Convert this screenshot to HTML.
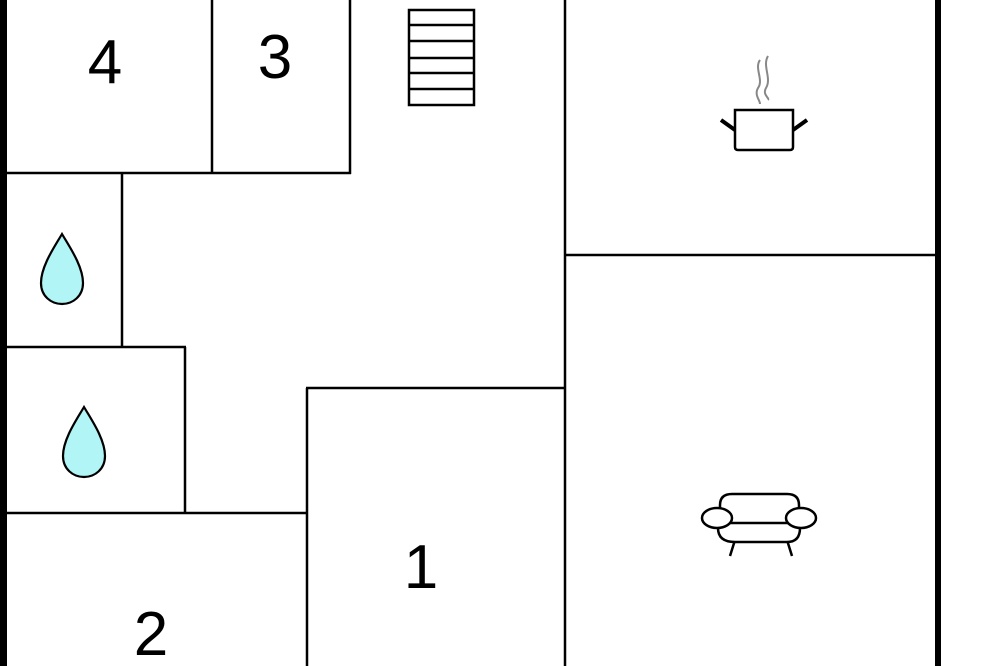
<!DOCTYPE html>
<html><head><meta charset="utf-8"><style>
html,body{margin:0;padding:0;background:#fff;}
svg{display:block;}
text{font-family:"Liberation Sans",sans-serif;fill:#000;}
</style></head><body>
<svg width="1000" height="666" viewBox="0 0 1000 666">
<rect width="1000" height="666" fill="#fff"/>
<g stroke="#000" stroke-width="2.5" fill="none">
<line x1="7" y1="173" x2="351" y2="173"/>
<line x1="212" y1="0" x2="212" y2="173"/>
<line x1="350" y1="0" x2="350" y2="174"/>
<line x1="122" y1="173" x2="122" y2="347"/>
<line x1="7" y1="347" x2="186" y2="347"/>
<line x1="185" y1="347" x2="185" y2="513"/>
<line x1="7" y1="513" x2="308" y2="513"/>
<line x1="307" y1="388" x2="307" y2="666"/>
<line x1="306" y1="388" x2="565" y2="388"/>
<line x1="565" y1="0" x2="565" y2="666"/>
<line x1="565" y1="255" x2="936" y2="255"/>
</g>
<rect x="0" y="0" width="7" height="666" fill="#000"/>
<rect x="935" y="0" width="6" height="666" fill="#000"/>
<!-- stairs -->
<g stroke="#000" stroke-width="2.5" fill="none">
<rect x="409" y="10" width="65" height="95"/>
<line x1="409" y1="25" x2="474" y2="25"/>
<line x1="409" y1="41" x2="474" y2="41"/>
<line x1="409" y1="58" x2="474" y2="58"/>
<line x1="409" y1="73" x2="474" y2="73"/>
<line x1="409" y1="89" x2="474" y2="89"/>
</g>
<text x="105" y="83" font-size="62" text-anchor="middle">4</text>
<text x="275" y="78" font-size="62" text-anchor="middle">3</text>
<text x="421" y="588" font-size="62" text-anchor="middle">1</text>
<text x="151" y="655" font-size="62" text-anchor="middle">2</text>
<!-- drops -->
<path d="M62,234 C55,246 41,266 41,283 C41,296 51,304 62,304 C73,304 83,296 83,283 C83,266 69,246 62,234 Z" fill="#b2f5f7" stroke="#000" stroke-width="2.2"/>
<path d="M84,407 C77,419 63,439 63,456 C63,469 73,477 84,477 C95,477 105,469 105,456 C105,439 91,419 84,407 Z" fill="#b2f5f7" stroke="#000" stroke-width="2.2"/>
<!-- pot -->
<g fill="none">
<path d="M760,60 C754,68 764,80 758,88 C754,95 760,100 760,104" stroke="#888" stroke-width="2"/>
<path d="M768,56 C762,66 772,78 766,88 C762,95 770,98 768,100" stroke="#888" stroke-width="2"/>
<path d="M735,110 L793,110 L793,147 Q793,150 790,150 L738,150 Q735,150 735,147 Z" stroke="#000" stroke-width="2.5" fill="#fff"/>
<line x1="721" y1="120" x2="735" y2="130" stroke="#000" stroke-width="4"/>
<line x1="807" y1="120" x2="793" y2="130" stroke="#000" stroke-width="4"/>
</g>
<!-- sofa -->
<g fill="#fff" stroke="#000" stroke-width="2.5">
<line x1="735" y1="540" x2="730" y2="556"/>
<line x1="787" y1="540" x2="792" y2="556"/>
<path d="M720,510 L720,505 Q720,494 732,494 L787,494 Q799,494 799,505 L799,510"/>
<path d="M718,522 L718,528 Q718,542 735,542 L787,542 Q800,542 800,528 L800,522"/>
<line x1="730" y1="523" x2="790" y2="523"/>
<ellipse cx="717" cy="518" rx="15" ry="10"/>
<ellipse cx="801" cy="518" rx="15" ry="10"/>
</g>
</svg>
</body></html>
